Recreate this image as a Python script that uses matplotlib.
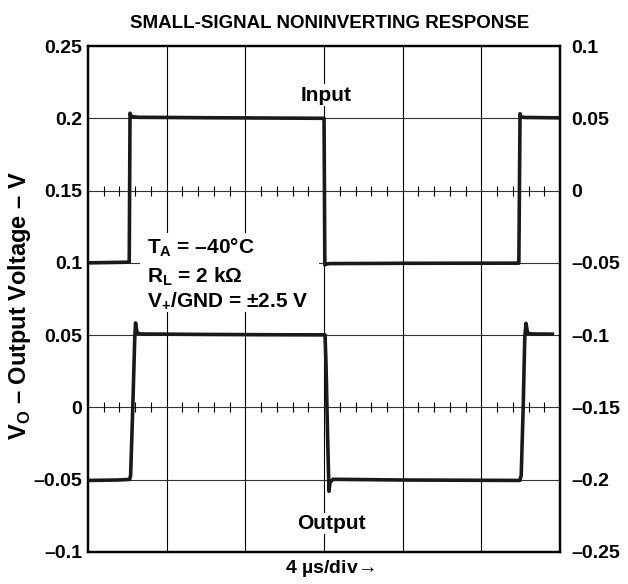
import matplotlib.pyplot as plt
from matplotlib.patches import Rectangle
import numpy as np

plt.rcParams['font.family'] = ['Liberation Sans', 'DejaVu Sans']
plt.rcParams['font.weight'] = 'bold'
plt.rcParams['mathtext.fontset'] = 'custom'
plt.rcParams['mathtext.rm'] = 'Liberation Sans:bold'
plt.rcParams['mathtext.bf'] = 'Liberation Sans:bold'

# time in microseconds, voltage in V (left scale)
t_input = [0, 2.1, 2.14, 2.2, 2.6, 6.0, 9.0, 12.0, 12.04, 12.1, 12.3, 16.0, 21.9, 21.96, 22.0, 22.2, 24.0]
v_input = [0.1, 0.1005, 0.2035, 0.2012, 0.2007, 0.2004, 0.2002, 0.200, 0.0986, 0.0992, 0.0995, 0.0997, 0.0998, 0.2032, 0.2010, 0.2006, 0.2003]

t_output = [0, 1.5, 2.12, 2.17, 2.28, 2.38, 2.42, 2.5, 2.7, 6.0, 9.0, 12.05, 12.1, 12.18, 12.25, 12.3, 12.45, 16.0, 21.95,
            22.02, 22.12, 22.2, 22.26, 22.35, 22.6, 23.6]
v_output = [-0.0505, -0.0502, -0.0498, -0.047, 0.0, 0.048, 0.0585, 0.0515, 0.0508, 0.0505, 0.0503, 0.0502, 0.03, -0.02, -0.058,
            -0.052, -0.0497, -0.0502, -0.0505, -0.047, 0.0, 0.048, 0.0582, 0.0512, 0.0508, 0.0507]

left_ticks = [-0.1, -0.05, 0, 0.05, 0.1, 0.15, 0.2, 0.25]
left_labels = ['\u20130.1', '\u20130.05', '0', '0.05', '0.1', '0.15', '0.2', '0.25']
right_ticks = [-0.25, -0.2, -0.15, -0.1, -0.05, 0, 0.05, 0.1]
right_labels = ['\u20130.25', '\u20130.2', '\u20130.15', '\u20130.1', '\u20130.05', '0', '0.05', '0.1']

conditions = ['T$_{\\mathrm{A}}$ = \u201340\u00b0C',
              'R$_{\\mathrm{L}}$ = 2 k\u03a9',
              'V$_{\\mathrm{+}}$/GND = \u00b12.5 V']

fig = plt.figure(figsize=(6.28, 5.84), dpi=100)
ax = fig.add_axes([0.140, 0.0548, 0.752, 0.8664])
ax.set_xlim(0, 24)
ax.set_ylim(-0.1, 0.25)

# graticule
for x in np.arange(4, 24, 4):
    ax.axvline(x, color='black', lw=0.8, zorder=1)
for y in left_ticks[1:-1]:
    ax.axhline(y, color='#333333', lw=0.8, zorder=1)
minor = [m for m in np.arange(0.8, 24, 0.8) if abs(m / 4 - round(m / 4)) > 0.01]
for y in (0.15, 0.0):
    ax.plot(minor, [y] * len(minor), ls='none', marker='|', ms=7, mew=0.8, color='black', zorder=1)

ax.plot(t_input, v_input, color='#1a1a1a', lw=2.6, zorder=3)
ax.plot(t_output, v_output, color='#1a1a1a', lw=2.6, zorder=3)

ax.set_xticks([])
ax.set_yticks(left_ticks)
ax.set_yticklabels(left_labels, fontsize=14, fontweight='bold')
ax.tick_params(axis='y', length=0, pad=4)
for s in ax.spines.values():
    s.set_linewidth(1.6)

ax2 = ax.twinx()
ax2.set_ylim(-0.25, 0.1)
ax2.set_yticks(right_ticks)
ax2.set_yticklabels(right_labels, fontsize=14, fontweight='bold')
ax2.tick_params(axis='y', length=0, pad=8)
for s in ax2.spines.values():
    s.set_linewidth(1.6)

ax.set_ylabel('V$_{\\mathrm{O}}$ \u2013 Output Voltage \u2013 V', fontsize=17, fontweight='bold')
ax.yaxis.set_label_coords(-0.117, 0.488, transform=ax.transAxes)
ax.set_xlabel('4 \u00b5s/div$\\!\\rightarrow$', fontsize=14, fontweight='bold')
ax.xaxis.set_label_coords(0.513, -0.012, transform=ax.transAxes)
ax.xaxis.label.set_va('top')
ax.set_title('SMALL-SIGNAL NONINVERTING RESPONSE', fontsize=13.5, fontweight='bold', pad=13, x=0.511)

# white backing behind the condition text
ax.add_patch(Rectangle((2.64, 0.066), 9.1, 0.0547, facecolor='white', edgecolor='none', zorder=2))

bbox = dict(facecolor='white', edgecolor='none', pad=1)
ax.text(12.1, 0.212, 'Input', fontsize=15, fontweight='bold', ha='center', va='baseline', bbox=bbox, zorder=4)
ax.text(12.36, -0.0841, 'Output', fontsize=15, fontweight='bold', ha='center', va='baseline', bbox=bbox, zorder=4)
for label, y in zip(conditions, [0.1068, 0.0868, 0.0702]):
    ax.text(2.98, y, label, fontsize=15, fontweight='bold', va='baseline', zorder=4)

fig.savefig('out.png', dpi=100)
